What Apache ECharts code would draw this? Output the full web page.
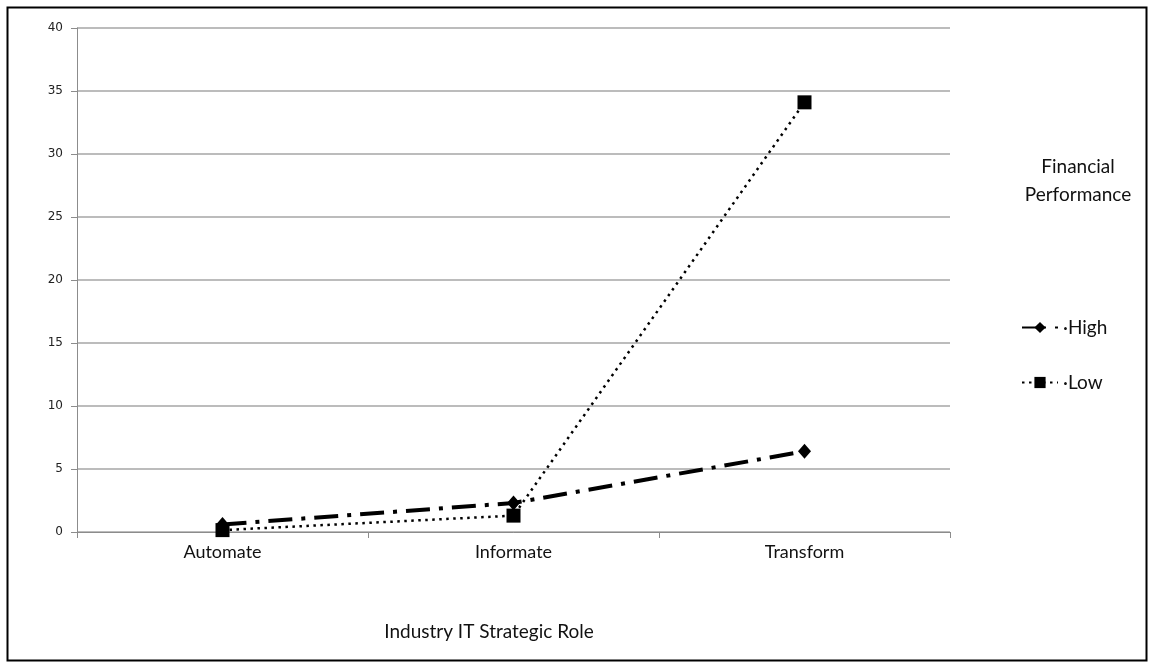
<!DOCTYPE html>
<html><head><meta charset="utf-8">
<script src="https://cdn.jsdelivr.net/npm/echarts@6/dist/echarts.min.js"></script>
<style>html,body{margin:0;padding:0;background:#fff}#c{width:1150px;height:664px}</style>
</head><body><div id="c"></div>
<script>
const categories = ['Automate', 'Informate', 'Transform'];
const highValues = [0.6, 2.3, 6.4];
const lowValues = [0.15, 1.3, 34.1];
const yTicks = {min: 0, max: 40, interval: 5};
const xAxisTitle = 'Industry IT Strategic Role';
const legendTitle = 'Financial\nPerformance';

const chart = echarts.init(document.getElementById('c'), null, {renderer: 'canvas'});
const labelFont = 'Lato, "Open Sans", sans-serif';
chart.setOption({
  animation: false,
  backgroundColor: '#fff',
  grid: {left: 77, right: 200, top: 28, bottom: 132},
  xAxis: {
    type: 'category', data: categories, boundaryGap: true,
    axisLine: {lineStyle: {color: '#8c8c8c', width: 1}},
    axisTick: {show: true, length: 6, lineStyle: {color: '#8c8c8c'}},
    axisLabel: {color: '#111', fontSize: 18, fontFamily: labelFont, margin: 11}
  },
  yAxis: {
    type: 'value', min: yTicks.min, max: yTicks.max, interval: yTicks.interval,
    axisLine: {show: true, lineStyle: {color: '#8c8c8c', width: 1}},
    axisTick: {show: true, length: 6, lineStyle: {color: '#8c8c8c'}},
    axisLabel: {color: '#222', fontSize: 12, fontFamily: '"DejaVu Sans", sans-serif', margin: 14},
    splitLine: {lineStyle: {color: '#a6a6a6', width: 1.5}}
  },
  legend: {
    orient: 'vertical', left: 1016, top: 313, itemGap: 36,
    itemWidth: 36, itemHeight: 14,
    textStyle: {color: '#111', fontSize: 19, fontFamily: labelFont},
    formatter: n => '·' + n,
    data: ['High', 'Low']
  },
  graphic: [
    {type: 'rect', left: 5, top: 5, shape: {width: 1139, height: 653},
     style: {fill: 'none', stroke: '#000', lineWidth: 2}},
    {type: 'text', x: 1078, y: 153,
     style: {text: legendTitle, fill: '#111', font: '19px Lato, "Open Sans", sans-serif', align: 'center', lineHeight: 28}},
    {type: 'text', x: 489, y: 622,
     style: {text: xAxisTitle, fill: '#111', font: '19px Lato, "Open Sans", sans-serif', align: 'center'}}
  ],
  series: [
    {name: 'High', type: 'line', data: highValues,
     symbol: 'diamond', symbolSize: [13, 15],
     itemStyle: {color: '#000'},
     lineStyle: {color: '#000', width: 4, type: [24, 9, 4, 9]}},
    {name: 'Low', type: 'line', data: lowValues,
     symbol: 'rect', symbolSize: 14,
     itemStyle: {color: '#000'},
     lineStyle: {color: '#000', width: 2.5, type: [2.5, 4.5]}}
  ]
});
</script></body></html>
